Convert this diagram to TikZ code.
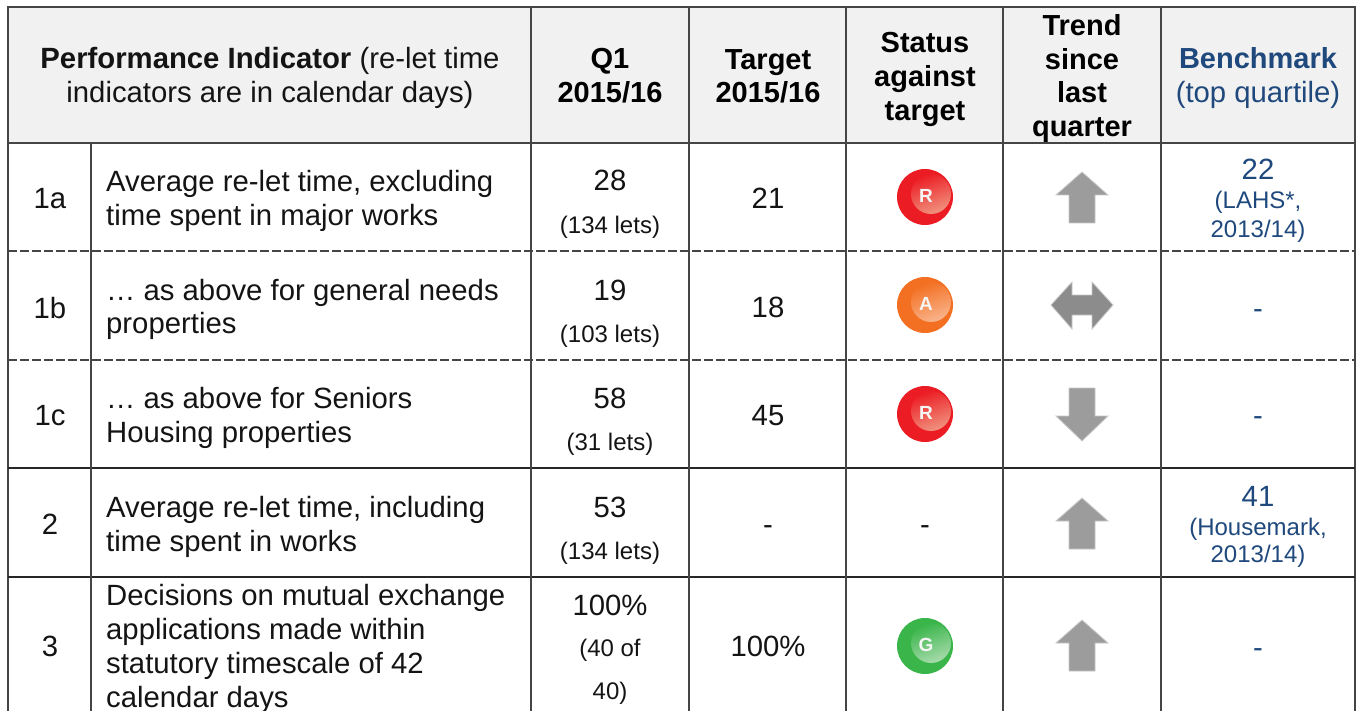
\documentclass[tikz,border=0pt]{standalone}
\usepackage{fontspec}
\setmainfont{Liberation Sans}
\definecolor{bench}{HTML}{1F497D}
\definecolor{rule}{HTML}{454545}
\definecolor{headfill}{HTML}{F1F1F1}
\definecolor{arrowgrey}{HTML}{9C9C9C}
\definecolor{ballR}{HTML}{EC1C24}
\definecolor{ballRl}{HTML}{F0937F}
\definecolor{ballA}{HTML}{F36F21}
\definecolor{ballAl}{HTML}{F9B48C}
\definecolor{ballG}{HTML}{39B54A}
\definecolor{ballGl}{HTML}{A8DBAC}
\tikzset{
  grid/.style={draw=rule,line width=1.5pt},
  softgrid/.style={draw=black!85,line width=1.2pt},
  dashgrid/.style={draw=rule,line width=1.1pt,dash pattern=on 8.5pt off 3.5pt},
  txt/.style={anchor=base,inner sep=0pt,font=\fontsize{29.3}{34}\selectfont,text=black!92},
  lft/.style={txt,anchor=base west},
  small/.style={txt,font=\fontsize{24}{28}\selectfont},
  hb/.style={txt,font=\fontsize{29}{34}\bfseries\selectfont,text=black},
  bm/.style={txt,text=bench},
  bms/.style={small,text=bench},
  trend/.style={fill=arrowgrey,draw=arrowgrey!55,line width=.8pt,line join=miter},
  balltxt/.style={inner sep=0pt,text=white!92!gray,font=\fontsize{19}{19}\bfseries\selectfont},
}
\newcommand{\ballicon}[5]{% name, y, dark, light, letter
  \fill[#3] (925,#2) circle[radius=28];
  \begin{scope}
    \clip (925,#2) circle[radius=28];
    \shade[left color=#3,right color=#4,shading angle=20] (931,#2-3) circle[radius=20];
  \end{scope}
  \node[balltxt] (#1) at (926,#2-1) {#5};
}
\newcommand{\uparrowicon}[1]{% tip y
  \path[trend] (1082,#1) -- (1108,#1+23) -- (1095,#1+23) -- (1095,#1+51) -- (1069,#1+51) -- (1069,#1+23) -- (1056,#1+23) -- cycle;
}
\begin{document}
\begin{tikzpicture}[x=1pt,y=-1pt]
\useasboundingbox (0,0) rectangle (1362,711);
\fill[white] (0,0) rectangle (1362,711);
\fill[headfill] (8,7) rectangle (1355,143);
% rules
\draw[dashgrid] (8,251) -- (1355,251);
\draw[dashgrid] (8,360) -- (1355,360);
\draw[grid] (8,711) -- (8,7) -- (1355,7) -- (1355,711);
\draw[grid] (8,143) -- (1355,143);
\draw[softgrid] (8,468) -- (1355,468);
\draw[softgrid] (8,577) -- (1355,577);
\draw[grid] (91,143) -- (91,711);
\foreach \x in {531,689,846,1003,1161} \draw[grid] (\x,7) -- (\x,711);
% header
\node[txt] (h1) at (270,69) {\textbf{Performance Indicator} (re-let time};
\node[txt] (h2) at (270,103) {indicators are in calendar days)};
\node[hb] (q1a) at (610,69) {Q1};
\node[hb] (q1b) at (610,102.5) {2015/16};
\node[hb] (ta) at (768,70) {Target};
\node[hb] (tb) at (768,103) {2015/16};
\node[hb] (sa) at (925,53) {Status};
\node[hb] (sb) at (925,87) {against};
\node[hb] (sc) at (925,120.5) {target};
\node[hb] (tra) at (1082,36) {Trend};
\node[hb] (trb) at (1082,70) {since};
\node[hb] (trc) at (1082,103) {last};
\node[hb] (trd) at (1082,137) {quarter};
\node[hb,text=bench] (ba) at (1258,69) {Benchmark};
\node[bm] (bb) at (1258,103) {(top quartile)};
% row 1a
\node[txt] (r1) at (50,209) {1a};
\node[lft] (r1a) at (106,192) {Average re-let time, excluding};
\node[lft] (r1b) at (106,226) {time spent in major works};
\node[txt] (r1q) at (610,191) {28};
\node[small] (r1l) at (610,234) {(134 lets)};
\node[txt] (r1t) at (768,208.5) {21};
\ballicon{b1}{197}{ballR}{ballRl}{R}
\uparrowicon{172}
\node[bm] (r1m) at (1258,180) {22};
\node[bms] (r1n) at (1258,209) {(LAHS*,};
\node[bms] (r1o) at (1258,238) {2013/14)};
% row 1b
\node[txt] (r2) at (50,318) {1b};
\node[lft] (r2a) at (106,300) {… as above for general needs};
\node[lft] (r2b) at (106,333) {properties};
\node[txt] (r2q) at (610,300) {19};
\node[small] (r2l) at (610,342) {(103 lets)};
\node[txt] (r2t) at (768,317) {18};
\ballicon{b2}{305}{ballA}{ballAl}{A}
\path[trend,fill=arrowgrey!90!black] (1051,305) -- (1072,282) -- (1072,295) -- (1092,295) -- (1092,282) -- (1113,305) -- (1092,329) -- (1092,315) -- (1072,315) -- (1072,329) -- cycle;
\node[bm] (r2m) at (1258,318) {-};
% row 1c
\node[txt] (r3) at (50,425) {1c};
\node[lft] (r3a) at (106,408) {… as above for Seniors};
\node[lft] (r3b) at (106,442) {Housing properties};
\node[txt] (r3q) at (610,408) {58};
\node[small] (r3l) at (610,450) {(31 lets)};
\node[txt] (r3t) at (768,425) {45};
\ballicon{b3}{414}{ballR}{ballRl}{R}
\path[trend] (1082,441) -- (1108,416) -- (1095,416) -- (1095,388) -- (1069,388) -- (1069,416) -- (1056,416) -- cycle;
\node[bm] (r3m) at (1258,425) {-};
% row 2
\node[txt] (r4) at (50,534) {2};
\node[lft] (r4a) at (106,517) {Average re-let time, including};
\node[lft] (r4b) at (106,551) {time spent in works};
\node[txt] (r4q) at (610,517) {53};
\node[small] (r4l) at (610,559) {(134 lets)};
\node[txt] (r4t) at (768,534) {-};
\node[txt] (r4s) at (925,534) {-};
\uparrowicon{498}
\node[bm] (r4m) at (1258,506) {41};
\node[bms] (r4n) at (1258,535) {(Housemark,};
\node[bms] (r4o) at (1258,562) {2013/14)};
% row 3
\node[txt] (r5) at (50,656) {3};
\node[lft] (r5a) at (106,605) {Decisions on mutual exchange};
\node[lft] (r5b) at (106,639) {applications made within};
\node[lft] (r5c) at (106,673) {statutory timescale of 42};
\node[lft] (r5d) at (106,707) {calendar days};
\node[txt] (r5q) at (610,615) {100\%};
\node[small] (r5l) at (610,656) {(40 of};
\node[small] (r5k) at (610,699) {40)};
\node[txt] (r5t) at (768,656) {100\%};
\ballicon{b5}{646}{ballG}{ballGl}{G}
\uparrowicon{620}
\node[bm] (r5m) at (1258,657) {-};
\end{tikzpicture}
\end{document}
